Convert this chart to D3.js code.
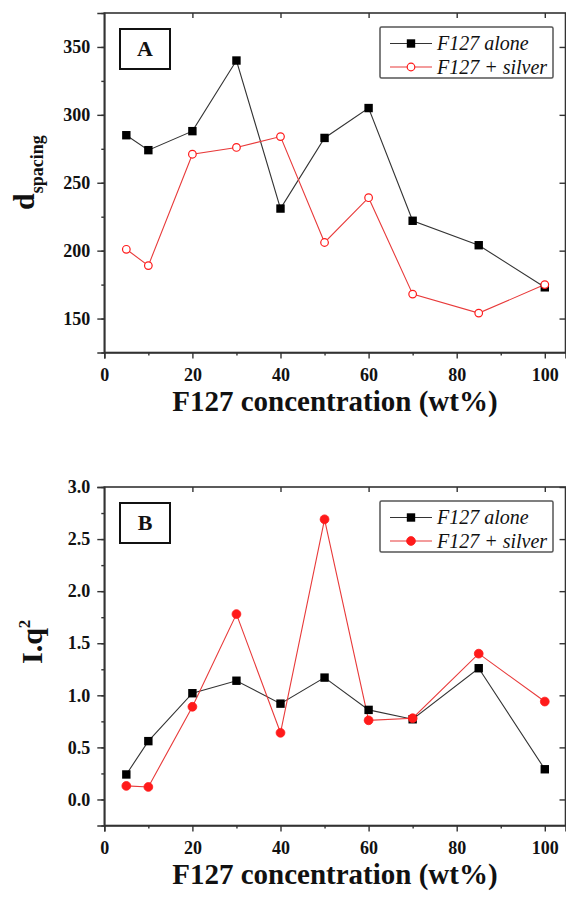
<!DOCTYPE html>
<html>
<head>
<meta charset="utf-8">
<script src="https://cdn.jsdelivr.net/npm/d3@7"></script>
<style>
  body { margin: 0; background: #fff; }
  svg text { font-family: "Liberation Serif", "Times New Roman", serif; }
</style>
</head>
<body>
<div id="container"></div>
<script>
/* DATA */
const concentration = [5, 10, 20, 30, 40, 50, 60, 70, 85, 100];
const dSpacingAlone = [285, 274, 288, 340, 231, 283, 305, 222, 204, 173];
const dSpacingSilver = [201, 189, 271, 276, 284, 206, 239, 168, 154, 175];
const iq2Alone = [0.24, 0.56, 1.02, 1.14, 0.92, 1.17, 0.86, 0.77, 1.26, 0.29];
const iq2Silver = [0.13, 0.12, 0.89, 1.78, 0.64, 2.69, 0.76, 0.78, 1.40, 0.94];
const xTicks = [0, 20, 40, 60, 80, 100];
const dTicks = [150, 200, 250, 300, 350];
const iqTicks = [0, 0.5, 1.0, 1.5, 2.0, 2.5, 3.0];
const seriesNames = ["F127 alone", "F127 + silver"];

/* CONSTANTS */
const width = 566, height = 899;
const left = 104.3, right = 565.5;
const black = "#222", red = "#ff1a1a";

const svg = d3.select("#container")
  .append("svg")
  .attr("width", width)
  .attr("height", height);

const xScale = d3.scaleLinear()
  .domain([0, 104.7])
  .range([left, right]);

function drawPanel(p) {
  const yScale = d3.scaleLinear()
    .domain(p.yDomain)
    .range([p.bottom, p.top]);

  const g = svg.append("g");

  // frame
  g.append("rect")
    .attr("x", left).attr("y", p.top)
    .attr("width", right - left).attr("height", p.bottom - p.top)
    .attr("fill", "none").attr("stroke", "#333").attr("stroke-width", 1.6);

  // minor ticks
  g.append("g")
    .attr("transform", `translate(0,${p.bottom})`)
    .call(d3.axisBottom(xScale).tickValues(d3.range(10, 101, 20)).tickSize(3).tickFormat(""))
    .call(a => a.select(".domain").remove());
  g.append("g")
    .attr("transform", `translate(${left},0)`)
    .call(d3.axisLeft(yScale).tickValues(p.minor).tickSize(3).tickFormat(""))
    .call(a => a.select(".domain").remove());

  // major ticks, bottom / left
  const xAxis = g.append("g")
    .attr("transform", `translate(0,${p.bottom})`)
    .call(d3.axisBottom(xScale).tickValues(xTicks).tickSize(6).tickPadding(7));
  const yAxis = g.append("g")
    .attr("transform", `translate(${left},0)`)
    .call(d3.axisLeft(yScale).tickValues(p.ticks).tickSize(7).tickPadding(7).tickFormat(p.fmt));

  // mirrored ticks, top / right (inward)
  g.append("g")
    .attr("transform", `translate(0,${p.top})`)
    .call(d3.axisBottom(xScale).tickValues(xTicks.slice(1)).tickSize(5).tickFormat(""))
    .call(a => a.select(".domain").remove());
  g.append("g")
    .attr("transform", `translate(${right},0)`)
    .call(d3.axisLeft(yScale).tickValues(p.ticks).tickSize(6).tickFormat(""))
    .call(a => a.select(".domain").remove());

  g.selectAll(".domain").attr("stroke", "#333").attr("stroke-width", 1.6);
  g.selectAll(".tick line").attr("stroke", "#333").attr("stroke-width", 1.4);
  g.selectAll(".tick text")
    .attr("font-size", 18).attr("font-weight", "bold").attr("fill", "#111")
    .attr("font-family", "Liberation Serif, serif");
  xAxis.selectAll(".tick text").attr("dy", "0.85em");

  // x title
  g.append("text")
    .attr("x", (left + right) / 2).attr("y", p.bottom + 58)
    .attr("text-anchor", "middle")
    .attr("font-size", 29).attr("font-weight", "bold").attr("fill", "#111")
    .text("F127 concentration (wt%)");

  // y title
  const yt = g.append("text")
    .attr("transform", `translate(${p.ytX},${p.ytY}) rotate(-90)`)
    .attr("font-size", 30).attr("font-weight", "bold").attr("fill", "#111");
  yt.append("tspan").text(p.ytMain);
  yt.append("tspan").attr("font-size", p.ytSubSize).attr("dy", p.ytDy).text(p.ytSub);

  // panel letter
  g.append("rect")
    .attr("x", 120).attr("y", p.top + 16).attr("width", 50).attr("height", 40)
    .attr("fill", "none").attr("stroke", "#111").attr("stroke-width", 2);
  g.append("text")
    .attr("x", 145).attr("y", p.top + 43)
    .attr("text-anchor", "middle")
    .attr("font-size", 22).attr("font-weight", "bold").attr("fill", "#111")
    .text(p.letter);

  // lines
  const line = d3.line()
    .x((d, i) => xScale(concentration[i]))
    .y(d => yScale(d));

  g.append("path").datum(p.alone)
    .attr("d", line).attr("fill", "none")
    .attr("stroke", "#333").attr("stroke-width", 1.1);
  g.append("path").datum(p.silver)
    .attr("d", line).attr("fill", "none")
    .attr("stroke", "#e83a3a").attr("stroke-width", 1.1);

  // markers
  g.selectAll(".sq").data(p.alone).join("rect")
    .attr("x", (d, i) => xScale(concentration[i]) - 4.2)
    .attr("y", d => yScale(d) - 4.2)
    .attr("width", 8.4).attr("height", 8.4)
    .attr("fill", "#000");
  g.selectAll(".ci").data(p.silver).join("circle")
    .attr("cx", (d, i) => xScale(concentration[i]))
    .attr("cy", d => yScale(d))
    .attr("r", p.open ? 3.8 : 4.4)
    .attr("fill", p.open ? "#fff" : red)
    .attr("stroke", red).attr("stroke-width", p.open ? 1.2 : 0.8);

  // legend
  const lg = g.append("g");
  const lx = 380, lw = 173, ly = p.top + p.legTop;
  lg.append("rect")
    .attr("x", lx).attr("y", ly).attr("width", lw).attr("height", 51)
    .attr("rx", 1.5)
    .attr("fill", "#fff").attr("stroke", "#555").attr("stroke-width", 1.5);
  seriesNames.forEach((name, i) => {
    const cy = ly + 16.5 + i * 23.5;
    lg.append("line")
      .attr("x1", lx + 10).attr("x2", lx + 52).attr("y1", cy).attr("y2", cy)
      .attr("stroke", i === 0 ? "#333" : "#e83a3a").attr("stroke-width", 1.2);
    if (i === 0) {
      lg.append("rect")
        .attr("x", lx + 31 - 4.2).attr("y", cy - 4.2).attr("width", 8.4).attr("height", 8.4)
        .attr("fill", "#000");
    } else {
      lg.append("circle")
        .attr("cx", lx + 31).attr("cy", cy).attr("r", p.open ? 3.8 : 4.4)
        .attr("fill", p.open ? "#fff" : red)
        .attr("stroke", red).attr("stroke-width", p.open ? 1.2 : 0.8);
    }
    lg.append("text")
      .attr("x", lx + 57).attr("y", cy + 6.5)
      .attr("font-size", 20).attr("font-style", "italic").attr("fill", "#111")
      .text(name);
  });
}

drawPanel({
  top: 13, bottom: 352.5, yDomain: [125, 375],
  ticks: dTicks, minor: d3.range(125, 376, 25), fmt: d3.format("d"),
  alone: dSpacingAlone, silver: dSpacingSilver, open: true,
  letter: "A", legTop: 14,
  ytX: 34, ytY: 210, ytMain: "d", ytSub: "spacing", ytSubSize: 18, ytDy: 9
});

drawPanel({
  top: 487, bottom: 825.5, yDomain: [-0.25, 3],
  ticks: iqTicks, minor: d3.range(-0.25, 3.01, 0.25), fmt: d3.format(".1f"),
  alone: iq2Alone, silver: iq2Silver, open: false,
  letter: "B", legTop: 14,
  ytX: 42, ytY: 664, ytMain: "I.q", ytSub: "2", ytSubSize: 17, ytDy: -12
});
</script>
</body>
</html>
